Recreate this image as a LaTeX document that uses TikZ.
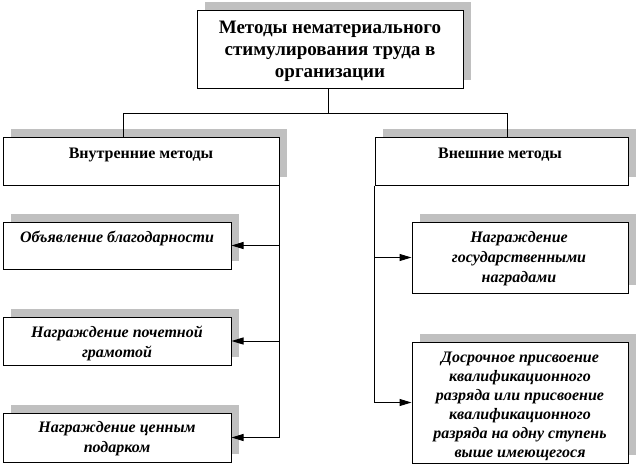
\documentclass[tikz,border=0pt]{standalone}
\usepackage{fontspec}
\setmainfont{Liberation Serif}
\usetikzlibrary{shadows,arrows.meta}
\definecolor{shgray}{RGB}{192,192,192}
\begin{document}
\begin{tikzpicture}[x=1pt,y=-1pt,
  box/.style={draw=black,line width=1pt,fill=white,rectangle,inner sep=0pt,
    drop shadow={shadow xshift=8pt,shadow yshift=8pt,fill=shgray,opacity=1}},
  ttl/.style={align=center,font=\fontsize{19}{22}\selectfont\bfseries,inner sep=0pt},
  hdr/.style={align=center,font=\fontsize{16}{20}\selectfont\bfseries,inner sep=0pt},
  itm/.style={align=center,font=\fontsize{16}{20}\selectfont\bfseries\itshape,inner sep=0pt},
  con/.style={line width=1pt},
  arr/.style={line width=1pt,-{Triangle[length=12pt,width=7pt]}}]
\useasboundingbox (0,0) rectangle (637,464);
% boxes
\node[box,minimum width=266pt,minimum height=78pt] (top) at (330,49) {};
\node[box,minimum width=276pt,minimum height=48pt] (inner) at (141,161) {};
\node[box,minimum width=253pt,minimum height=48pt] (outer) at (501.5,161) {};
\node[box,minimum width=228pt,minimum height=47pt] (b1) at (117,245.5) {};
\node[box,minimum width=228pt,minimum height=48pt] (b2) at (117,341) {};
\node[box,minimum width=228pt,minimum height=49pt] (b3) at (117,437.5) {};
\node[box,minimum width=216pt,minimum height=71pt] (r1) at (520,257.5) {};
\node[box,minimum width=216pt,minimum height=121pt] (r2) at (520,402.5) {};
% texts (base anchor = baseline of last line)
\node[ttl,anchor=base] (ttop) at (330,77) {Методы нематериального\\стимулирования труда в\\организации};
\node[hdr,anchor=base] (tinner) at (141,158) {Внутренние методы};
\node[hdr,anchor=base] (touter) at (500,158) {Внешние методы};
\node[itm,anchor=base] (tb1) at (117,242) {Объявление благодарности};
\node[itm,anchor=base] (tb2) at (117,357) {Награждение почетной\\грамотой};
\node[itm,anchor=base] (tb3) at (117,452) {Награждение ценным\\подарком};
\node[itm,anchor=base] (tr1) at (519,282) {Награждение\\государственными\\наградами};
\node[itm,anchor=base,font=\fontsize{16}{19}\selectfont\bfseries\itshape] (tr2) at (520,457) {Досрочное присвоение\\квалификационного\\разряда или присвоение\\квалификационного\\разряда на одну ступень\\выше имеющегося};
% connectors
\coordinate (j) at (328,113);
\coordinate (jl) at (123,113);
\coordinate (jr) at (507,113);
\draw[con] (top.south -| j) -- (j);
\draw[con] (jl) -- (jr);
\draw[con] (jl) -- (jl |- inner.north);
\draw[con] (jr) -- (jr |- outer.north);
\draw[arr] (inner.south east) |- (b3.east);
\draw[arr] (inner.south east |- b1.east) -- (b1.east);
\draw[arr] (inner.south east |- b2.east) -- (b2.east);
\draw[arr] (outer.south west) |- (r2.west);
\draw[arr] (outer.south west |- r1.west) -- (r1.west);
\end{tikzpicture}
\end{document}
